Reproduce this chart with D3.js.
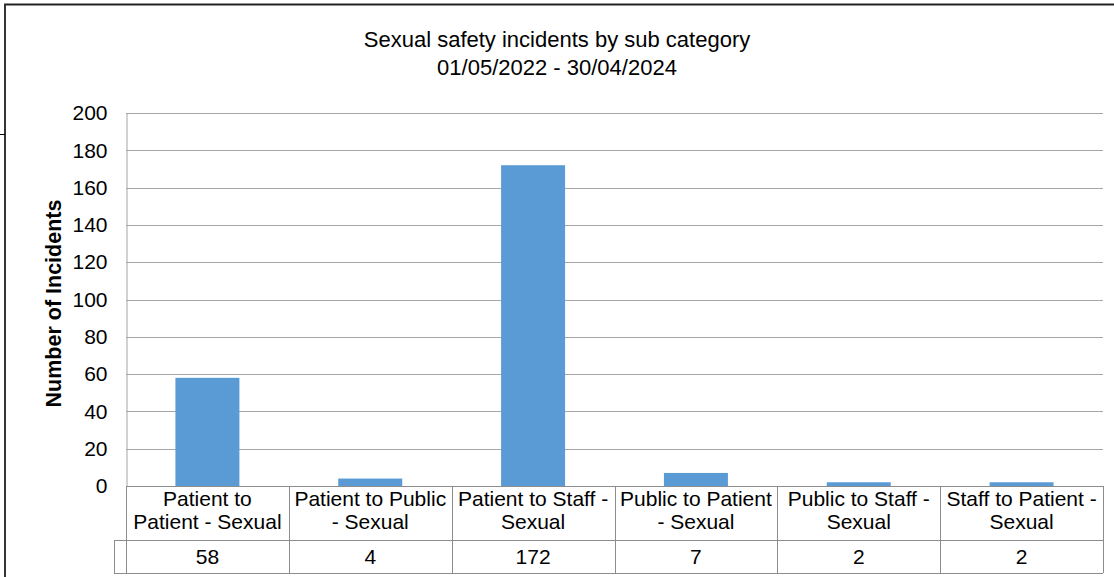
<!DOCTYPE html>
<html>
<head>
<meta charset="utf-8">
<script src="https://cdn.jsdelivr.net/npm/d3@7"></script>
<style>
  body { margin: 0; background: #fff; }
  text { font-family: "Liberation Sans", Arial, sans-serif; fill: #000; }
</style>
</head>
<body>
<div id="chart"></div>
<script>
// chart data
const categories = ["Patient to Patient - Sexual", "Patient to Public - Sexual", "Patient to Staff - Sexual",
                    "Public to Patient - Sexual", "Public to Staff - Sexual", "Staff to Patient - Sexual"];
// how the labels wrap in the table cells
const categoryLines = [["Patient to", "Patient - Sexual"], ["Patient to Public", "- Sexual"], ["Patient to Staff -", "Sexual"],
                       ["Public to Patient", "- Sexual"], ["Public to Staff -", "Sexual"], ["Staff to Patient -", "Sexual"]];
const incidents = [58, 4, 172, 7, 2, 2];
const yTicks = [0, 20, 40, 60, 80, 100, 120, 140, 160, 180, 200];
const titleLines = ["Sexual safety incidents by sub category", "01/05/2022 - 30/04/2024"];
const yLabel = "Number of Incidents";

const width = 1114, height = 577;
const plot = { left: 126, right: 1103, top: 113, bottom: 486 };
const catRowH = 54, valRowH = 33;

const svg = d3.select("#chart").append("svg")
  .attr("width", width).attr("height", height);

// outer frame bits
svg.append("line").attr("x1", 4).attr("x2", width).attr("y1", 4.5).attr("y2", 4.5)
  .attr("stroke", "#222").attr("stroke-width", 2);
svg.append("line").attr("x1", 5).attr("x2", 5).attr("y1", 4).attr("y2", height)
  .attr("stroke", "#333").attr("stroke-width", 2);
svg.append("line").attr("x1", 0).attr("x2", 5).attr("y1", 134.5).attr("y2", 134.5)
  .attr("stroke", "#000").attr("stroke-width", 1);

// title
svg.append("text").attr("x", 557).attr("y", 47).attr("text-anchor", "middle")
  .style("font-size", "22px").text(titleLines[0]);
svg.append("text").attr("x", 557).attr("y", 75).attr("text-anchor", "middle")
  .style("font-size", "22px").text(titleLines[1]);

const x = d3.scaleBand().domain(categories).range([plot.left, plot.right])
  .paddingInner(0.607).paddingOuter(0.3035);
const y = d3.scaleLinear().domain([0, 200]).range([plot.bottom, plot.top]);

// gridlines
svg.append("g").selectAll("line").data(yTicks.filter(d => d > 0)).join("line")
  .attr("x1", plot.left).attr("x2", plot.right)
  .attr("y1", d => Math.round(y(d)) + 0.5).attr("y2", d => Math.round(y(d)) + 0.5)
  .attr("stroke", "#a6a6a6");

// y axis
const yAxis = d3.axisLeft(y).tickValues(yTicks).tickSize(0).tickPadding(19);
const gy = svg.append("g").attr("transform", `translate(${plot.left + 0.5},0)`).call(yAxis);
gy.select(".domain").attr("stroke", "#a6a6a6");
gy.selectAll("text").style("font-size", "21px").attr("fill", "#000")
  .style("font-family", "'Liberation Sans', Arial, sans-serif");

svg.append("text").attr("transform", `translate(61,${(plot.top + plot.bottom) / 2 + 4}) rotate(-90)`)
  .attr("text-anchor", "middle").style("font-size", "21.5px").style("font-weight", "bold")
  .text(yLabel);

// bars
svg.append("g").selectAll("rect").data(incidents).join("rect")
  .attr("x", (d, i) => x(categories[i]))
  .attr("width", x.bandwidth())
  .attr("y", d => y(d))
  .attr("height", d => y(0) - y(d))
  .attr("fill", "#5b9bd5");

// data table below the axis
const step = x.step();
const tbl = svg.append("g").attr("stroke", "#8c8c8c").attr("stroke-width", 1);
const rowTop = plot.bottom, rowMid = plot.bottom + catRowH, rowBot = rowMid + valRowH;
tbl.append("line").attr("x1", plot.left).attr("x2", plot.right).attr("y1", rowTop + 0.5).attr("y2", rowTop + 0.5);
tbl.append("line").attr("x1", 114).attr("x2", plot.right).attr("y1", rowMid + 0.5).attr("y2", rowMid + 0.5);
tbl.append("line").attr("x1", 114).attr("x2", plot.right).attr("y1", rowBot + 0.5).attr("y2", rowBot + 0.5);
tbl.append("line").attr("x1", 114.5).attr("x2", 114.5).attr("y1", rowMid).attr("y2", rowBot);
tbl.selectAll(".col").data(d3.range(categories.length + 1)).join("line")
  .attr("x1", i => Math.round(plot.left + i * step) + 0.5)
  .attr("x2", i => Math.round(plot.left + i * step) + 0.5)
  .attr("y1", rowTop).attr("y2", rowBot);

const cells = svg.append("g").selectAll("g").data(categories).join("g")
  .attr("transform", d => `translate(${x(d) + x.bandwidth() / 2},0)`);
cells.each(function(d, i) {
  const g = d3.select(this);
  categoryLines[i].forEach((ln, k) => {
    g.append("text").attr("y", rowTop + 20 + k * 23).attr("text-anchor", "middle")
      .style("font-size", "21px").text(ln);
  });
  g.append("text").attr("y", rowMid + 24).attr("text-anchor", "middle")
    .style("font-size", "21px").text(incidents[i]);
});
</script>
</body>
</html>
